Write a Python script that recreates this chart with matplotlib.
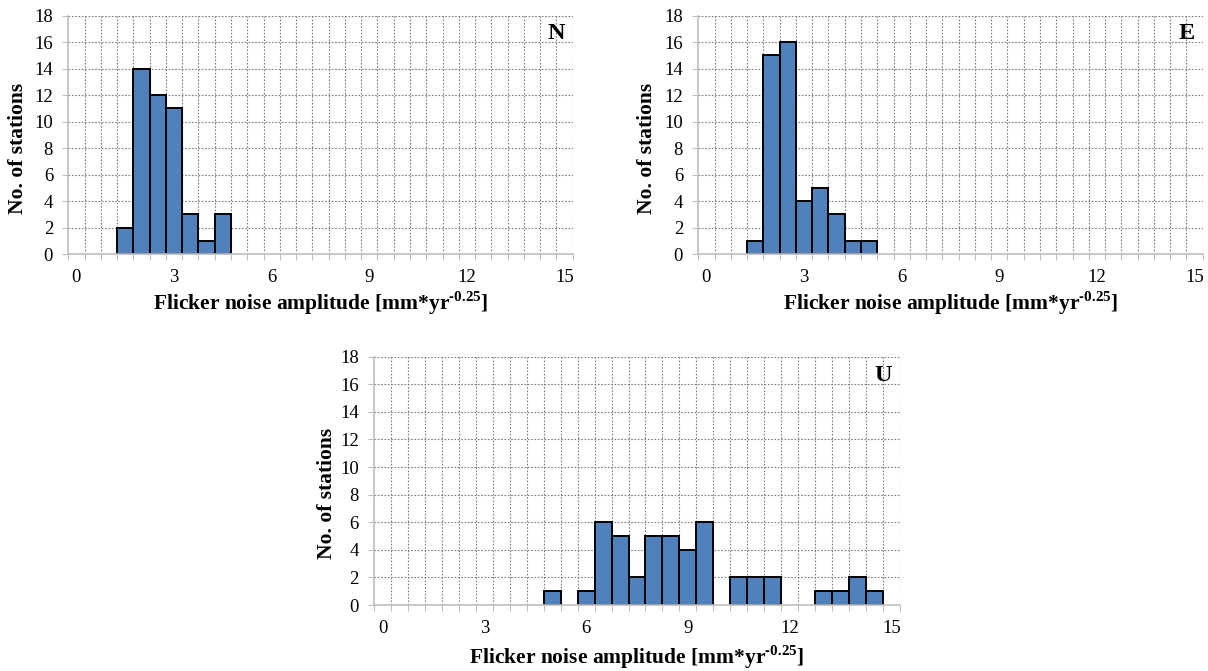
import matplotlib
matplotlib.use("Agg")
import matplotlib.pyplot as plt
import numpy as np
from matplotlib.ticker import FixedLocator

plt.rcParams['font.family'] = ['Liberation Serif', 'DejaVu Serif']
plt.rcParams['mathtext.fontset'] = 'custom'
plt.rcParams['mathtext.rm'] = 'Liberation Serif'
plt.rcParams['mathtext.bf'] = 'Liberation Serif:bold'

# ---- data ----
categories = [0, 0.5, 1, 1.5, 2, 2.5, 3, 3.5, 4, 4.5, 5, 5.5, 6, 6.5, 7, 7.5,
              8, 8.5, 9, 9.5, 10, 10.5, 11, 11.5, 12, 12.5, 13, 13.5, 14, 14.5, 15]
tick_labels = ["0", "3", "6", "9", "12", "15"]
counts_N = [0, 0, 0, 2, 14, 12, 11, 3, 1, 3, 0, 0, 0, 0, 0, 0,
            0, 0, 0, 0, 0, 0, 0, 0, 0, 0, 0, 0, 0, 0, 0]
counts_E = [0, 0, 0, 1, 15, 16, 4, 5, 3, 1, 1, 0, 0, 0, 0, 0,
            0, 0, 0, 0, 0, 0, 0, 0, 0, 0, 0, 0, 0, 0, 0]
counts_U = [0, 0, 0, 0, 0, 0, 0, 0, 0, 0, 1, 0, 1, 6, 5, 2,
            5, 5, 4, 6, 0, 2, 2, 2, 0, 0, 1, 1, 2, 1, 0]
panel_names = ["N", "E", "U"]

bar_color = "#4F81BD"
W, H = 1208, 671
fig = plt.figure(figsize=(W / 100, H / 100), dpi=100)

# axes rectangles in pixels: left, top, right, bottom
rects = [(68.3, 15.7, 572.7, 254.0),
         (698.3, 15.7, 1202.7, 254.0),
         (374.0, 356.7, 900.0, 605.0)]
ylabel_off = [50, 51, 47]
ylabel_y = [0.443, 0.443, 0.451]
xlabel_off = [49, 49, 52]

series = [counts_N, counts_E, counts_U]
n = len(categories)
xpos = np.arange(n)

for k, (name, cnt) in enumerate(zip(panel_names, series)):
    l, t, r, b = rects[k]
    ax = fig.add_axes([l / W, 1 - b / H, (r - l) / W, (b - t) / H])
    cnt = np.array(cnt)
    mask = cnt > 0
    ax.bar(xpos[mask], cnt[mask], width=1.0, color=bar_color,
           edgecolor="black", linewidth=1.4, zorder=3)
    ax.set_xlim(-0.5, n - 0.5)
    ax.set_ylim(0, 18)
    ax.set_yticks(np.arange(0, 19, 2))
    ax.set_xticks(xpos[::6])
    ax.set_xticklabels(tick_labels)
    ax.xaxis.set_minor_locator(FixedLocator(np.arange(-0.5, n, 1.0)))
    ax.tick_params(axis='x', which='major', length=0, pad=11, labelsize=13.5)
    ax.tick_params(axis='x', which='minor', length=4, width=0.8, color="#BFBFBF",
                   direction='out')
    ax.tick_params(axis='y', which='major', length=4, width=0.8, color="#BFBFBF",
                   pad=7, labelsize=13.5)
    # grid
    for xb in np.arange(0.5, n, 1.0):
        ax.axvline(xb, color="#7F7F7F", lw=0.8, ls=(0, (1.5, 1.5)), zorder=1)
    for yv in np.arange(2, 19, 2):
        ax.axhline(yv, color="#7F7F7F", lw=0.8, ls=(0, (1.5, 1.5)), zorder=1)
    for s in ['top', 'right']:
        ax.spines[s].set_visible(False)
    for s in ['left', 'bottom']:
        ax.spines[s].set_color("#BFBFBF")
        ax.spines[s].set_linewidth(1.2)
    ax.spines['bottom'].set_zorder(4)
    ax.set_ylabel("No. of stations", fontsize=15.5, fontweight='bold')
    ax.yaxis.set_label_coords(-ylabel_off[k] / (r - l), ylabel_y[k])
    ax.yaxis.label.set_va('center')
    ax.set_xlabel("Flicker noise amplitude [mm*yr$^{\\mathbf{\u20110.25}}$]",
                  fontsize=15.5, fontweight='bold')
    ax.xaxis.set_label_coords(0.5, -xlabel_off[k] / (b - t))
    ax.xaxis.label.set_va('center')
    ax.text(0.985, 0.925, name, transform=ax.transAxes, ha='right', va='center',
            fontsize=17.5, fontweight='bold', zorder=5)

fig.savefig("out.png", dpi=100)
